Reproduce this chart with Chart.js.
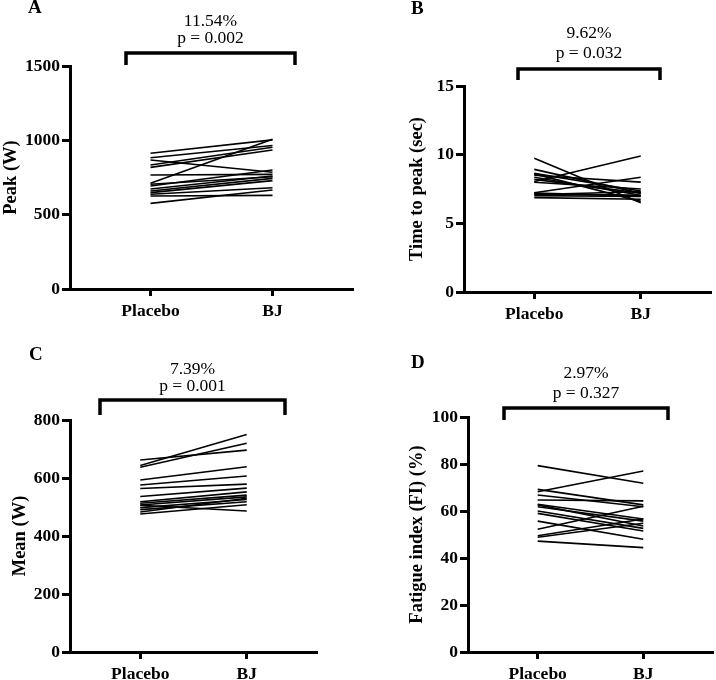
<!DOCTYPE html>
<html>
<head>
<meta charset="utf-8">
<script src="https://cdn.jsdelivr.net/npm/chart.js@4.4.1/dist/chart.umd.min.js"></script>
<style>
  body { margin: 0; background: #fff; }
  #wrap { position: relative; width: 716px; height: 680px; }
  #wrap canvas { position: absolute; }
</style>
</head>
<body>
<div id="wrap">
  <canvas id="chartA" width="358" height="340" style="left:0;top:0"></canvas>
  <canvas id="chartB" width="358" height="340" style="left:358px;top:0"></canvas>
  <canvas id="chartC" width="358" height="340" style="left:0;top:340px"></canvas>
  <canvas id="chartD" width="358" height="340" style="left:358px;top:340px"></canvas>
</div>
<script>
// groups on the x axis
const groups = ['Placebo', 'BJ'];

// one entry per participant
const peakPlacebo = [913, 883, 868, 834, 818, 767, 712, 693, 673, 659, 648, 637, 626, 576, 705];
const peakBJ      = [1003, 965, 785, 953, 935, 771, 1007, 800, 760, 744, 729, 681, 630, 666, 755];

const timePlacebo = [9.74, 8.93, 8.64, 8.5, 8.35, 8.04, 7.99, 7.23, 7.14, 7.02, 6.87, 8.2, 7.1, 8.6, 7.2];
const timeBJ      = [6.5, 7.2, 7.35, 8.0, 7.05, 9.9, 7.5, 8.35, 7.05, 6.95, 6.75, 7.2, 7.3, 6.6, 7.0];

const meanPlacebo = [662, 643, 637, 593, 576, 564, 536, 518, 513, 507, 498, 491, 483, 476, 506];
const meanBJ      = [696, 750, 720, 639, 607, 579, 565, 552, 541, 535, 526, 518, 530, 508, 486];

const fiPlacebo = [79.3, 68.2, 69.2, 66.8, 64.7, 62.6, 61.8, 60.0, 59.0, 55.7, 52.2, 49.5, 48.8, 47.2, 62.9];
const fiBJ      = [71.8, 77.0, 62.6, 61.8, 64.3, 53.6, 55.7, 52.6, 51.5, 48.0, 62.0, 56.6, 54.8, 44.4, 56.6];

// y tick labels
const peakTicks = [0, 500, 1000, 1500];
const timeTicks = [0, 5, 10, 15];
const meanTicks = [0, 200, 400, 600, 800];
const fiTicks   = [0, 20, 40, 60, 80, 100];

// change and p value printed over each panel
const changeLabels = ['11.54%', '9.62%', '7.39%', '2.97%'];
const pLabels = ['p = 0.002', 'p = 0.032', 'p = 0.001', 'p = 0.327'];

const FONT = '"Liberation Serif", "Times New Roman", serif';

// letter, change text and bracket, drawn above the plot
const panelDecor = {
  id: 'panelDecor',
  afterDraw(chart, args, o) {
    const ctx = chart.ctx;
    ctx.save();
    ctx.fillStyle = '#000';
    ctx.textBaseline = 'middle';
    ctx.font = 'bold 19px ' + FONT;
    ctx.textAlign = 'left';
    ctx.fillText(o.letter, o.letterX, o.letterY);

    const [x1, x2, yTop, yBot] = o.bracket;
    const cx = (x1 + x2) / 2;
    ctx.font = '17.5px ' + FONT;
    ctx.textAlign = 'center';
    ctx.fillText(o.change, cx, o.textY[0]);
    ctx.fillText(o.p, cx, o.textY[1]);

    ctx.strokeStyle = '#000';
    ctx.lineWidth = 3.5;
    ctx.lineJoin = 'miter';
    ctx.beginPath();
    ctx.moveTo(x1, yBot);
    ctx.lineTo(x1, yTop);
    ctx.lineTo(x2, yTop);
    ctx.lineTo(x2, yBot);
    ctx.stroke();
    ctx.restore();
  }
};

function pairLines(before, after) {
  return before.map((v, i) => ({
    data: [{x: 0, y: v}, {x: 1, y: after[i]}],
    borderColor: '#000',
    borderWidth: 1.6,
    pointRadius: 0,
    fill: false
  }));
}

function makePanel(id, before, after, yTicks, yTitle, area, decor) {
  const tickFont = {family: FONT, size: 17.5, weight: 'bold'};
  const titleFont = {family: FONT, size: 18.5, weight: 'bold'};
  new Chart(document.getElementById(id), {
    type: 'line',
    data: {datasets: pairLines(before, after)},
    options: {
      responsive: false,
      animation: false,
      layout: {padding: {left: 0, top: area.top, right: 358 - area.right, bottom: 0}},
      plugins: {
        legend: {display: false},
        tooltip: {enabled: false},
        panelDecor: decor
      },
      scales: {
        x: {
          type: 'linear',
          min: -0.66,
          max: 1.66,
          afterBuildTicks: s => { s.ticks = groups.map((g, i) => ({value: i})); },
          afterFit: s => { s.height = 340 - area.bottom; },
          border: {display: true, color: '#000', width: 3},
          grid: {drawOnChartArea: false, drawTicks: true, tickLength: 7, tickWidth: 3, tickColor: '#000', color: '#000'},
          ticks: {color: '#000', font: tickFont, padding: 5, maxRotation: 0, autoSkip: false,
                  callback: v => groups[v]}
        },
        y: {
          type: 'linear',
          min: yTicks[0],
          max: yTicks[yTicks.length - 1],
          afterBuildTicks: s => { s.ticks = yTicks.map(v => ({value: v})); },
          afterFit: s => { s.width = area.left; },
          border: {display: true, color: '#000', width: 3},
          grid: {drawOnChartArea: false, drawTicks: true, tickLength: 8, tickWidth: 3, tickColor: '#000', color: '#000'},
          ticks: {color: '#000', font: tickFont, padding: 2, callback: v => String(v)},
          title: {display: true, text: yTitle, color: '#000', font: titleFont,
                  padding: {top: area.titlePad, bottom: 0}}
        }
      }
    },
    plugins: [panelDecor]
  });
}

makePanel('chartA', peakPlacebo, peakBJ, peakTicks, 'Peak (W)',
  {left: 70, top: 66, right: 353, bottom: 289, titlePad: 0},
  {letter: 'A', letterX: 28, letterY: 8, change: changeLabels[0], p: pLabels[0],
   textY: [21, 38], bracket: [126, 295, 53, 65]});

makePanel('chartB', timePlacebo, timeBJ, timeTicks, 'Time to peak (sec)',
  {left: 106, top: 86, right: 353, bottom: 292, titlePad: 48},
  {letter: 'B', letterX: 53, letterY: 9, change: changeLabels[1], p: pLabels[1],
   textY: [33, 53], bracket: [160, 302, 69, 80]});

makePanel('chartC', meanPlacebo, meanBJ, meanTicks, 'Mean (W)',
  {left: 70, top: 80, right: 317, bottom: 312, titlePad: 9},
  {letter: 'C', letterX: 29, letterY: 15, change: changeLabels[2], p: pLabels[2],
   textY: [29, 46], bracket: [100, 285, 60, 75]});

makePanel('chartD', fiPlacebo, fiBJ, fiTicks, 'Fatigue index (FI) (%)',
  {left: 110, top: 77, right: 355, bottom: 312, titlePad: 48},
  {letter: 'D', letterX: 53, letterY: 23, change: changeLabels[3], p: pLabels[3],
   textY: [33, 53], bracket: [146, 310, 68, 80]});
</script>
</body>
</html>
